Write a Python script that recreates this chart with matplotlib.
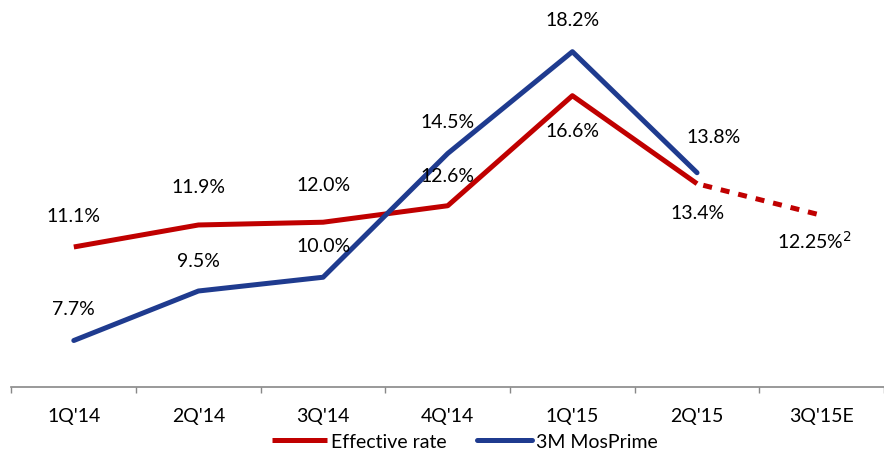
import numpy as np
import matplotlib.pyplot as plt
from matplotlib.ticker import FixedLocator, NullFormatter

quarters = ["1Q'14", "2Q'14", "3Q'14", "4Q'14", "1Q'15", "2Q'15", "3Q'15E"]
effective_rate = [11.1, 11.9, 12.0, 12.6, 16.6, 13.4]
effective_forecast = 12.25
mosprime = [7.7, 9.5, 10.0, 14.5, 18.2, 13.8]

RED = '#C00000'
BLUE = '#1F3B8F'

plt.rcParams['font.family'] = ['Lato', 'DejaVu Sans']

fig = plt.figure(figsize=(8.84, 4.52), dpi=100)
ax = fig.add_axes([0.013, 0.141, 0.987, 0.852])

x = np.arange(len(quarters))

ax.plot(x[:6], effective_rate, color=RED, lw=3.6, solid_capstyle='butt',
        label='Effective rate')
ax.plot(x[:6], mosprime, color=BLUE, lw=3.6, solid_capstyle='round',
        label='3M MosPrime')
# dashed forecast segment for the effective rate
ax.plot([x[5] + 0.05, x[6]],
        [effective_rate[5] + 0.05 * (effective_forecast - effective_rate[5]), effective_forecast],
        color=RED, lw=3.6, linestyle=(0, (1.8, 1.8)), dash_capstyle='butt')

# value labels: offsets in points (above > 0, below < 0)
red_offsets = [23, 28, 27, 22, -25, -21]
blue_offsets = [23, 22, 23, 23, 23, 26]
for i, v in enumerate(effective_rate):
    ax.annotate(f'{v:.1f}%', (x[i], v), xytext=(0, red_offsets[i]),
                textcoords='offset points', ha='center', va='center', fontsize=14)
for i, v in enumerate(mosprime):
    dx = 12 if i == 5 else 0
    ax.annotate(f'{v:.1f}%', (x[i], v), xytext=(dx, blue_offsets[i]),
                textcoords='offset points', ha='center', va='center', fontsize=14)
ax.annotate('12.25%$^2$', (x[6], effective_forecast), xytext=(-5, -18),
            textcoords='offset points', ha='center', va='center', fontsize=14)

ax.set_xlim(-0.5, 6.5)
ax.set_ylim(6, 20)
ax.set_xticks(x)
ax.set_xticklabels(quarters, fontsize=14)
ax.xaxis.set_minor_locator(FixedLocator(np.arange(-0.5, 7, 1)))
ax.xaxis.set_minor_formatter(NullFormatter())
ax.tick_params(axis='x', which='major', length=0, pad=14)
ax.tick_params(axis='x', which='minor', length=4.5, width=1, color='#888888')
ax.set_yticks([])
for side in ['top', 'right', 'left']:
    ax.spines[side].set_visible(False)
ax.spines['bottom'].set_color('#888888')
ax.spines['bottom'].set_linewidth(1.2)

fig.legend(loc='center', bbox_to_anchor=(0.526, 0.022), ncol=2, frameon=False,
           fontsize=14, handlelength=2.8, handletextpad=0.2, columnspacing=1.6)

fig.savefig('out.png', dpi=100)
